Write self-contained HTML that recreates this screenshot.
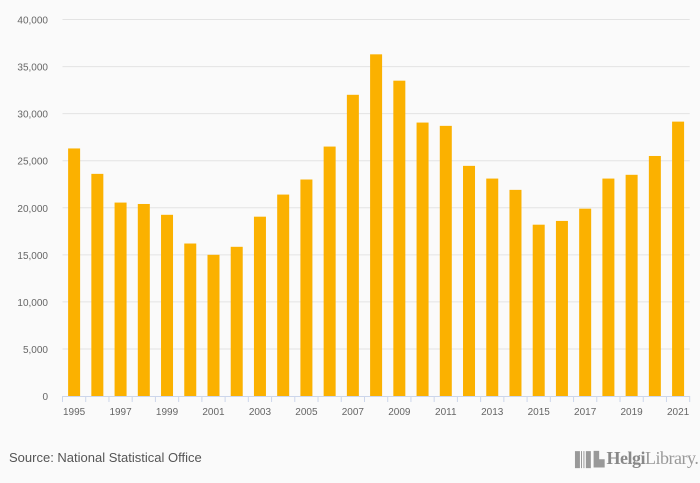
<!DOCTYPE html>
<html><head><meta charset="utf-8"><style>
body{margin:0;background:#fafafa;font-family:"Liberation Sans",sans-serif;}
#wrap{position:relative;width:700px;height:483px;background:#fafafa;overflow:hidden}
.src{position:absolute;left:9px;top:450px;font-size:13px;color:#555}
.logo{position:absolute;left:570px;top:448px;font-family:"Liberation Serif",serif;font-size:18px;color:#999;letter-spacing:-0.5px}
</style></head><body>
<div id="wrap">
<svg id="chart" width="700" height="483"></svg>
<div class="src">Source: National Statistical Office</div>
<div class="logo"><span style="font-size:14px;letter-spacing:-2px">▐║▌▙</span> <b style="font-weight:bold;color:#888">Helgi</b>Library.</div>
</div>
<script>
const years=[1995,1996,1997,1998,1999,2000,2001,2002,2003,2004,2005,2006,2007,2008,2009,2010,2011,2012,2013,2014,2015,2016,2017,2018,2019,2020,2021];
const values=[26300,23600,20550,20400,19250,16200,15000,15850,19050,21400,23000,26500,32000,36300,33500,29050,28700,24450,23100,21900,18200,18600,19900,23100,23500,25500,29150];
const yTicks=[0,5000,10000,15000,20000,25000,30000,35000,40000];
const ns="http://www.w3.org/2000/svg";
const svg=document.getElementById('chart');
const L=62.5,R=689.7,T=19.5,B=396;
const band=(R-L)/years.length;
const y=v=>B-(v/40000)*(B-T);
const x=i=>L+i*band;
function mk(t,a){const e=document.createElementNS(ns,t);for(const k in a)e.setAttribute(k,a[k]);svg.appendChild(e);return e;}
yTicks.forEach(t=>{
  if(t>0){const g=mk('line',{x1:L,x2:R,y1:y(t),y2:y(t),stroke:'#e3e3e3','stroke-width':1});
  
  }
  const tx=mk('text',{x:48,y:y(t)+4,'text-anchor':'end','font-size':10,fill:'#666'});
  
  
  tx.textContent=t.toLocaleString('en-US');
});
values.forEach((v,i)=>{
  const r=mk('rect',{x:x(i)+band/2-6,y:y(v),width:12,height:B-y(v),fill:'#fbb100'});
  
  
});
const ax=mk('line',{x1:L,x2:R,y1:B+0.5,y2:B+0.5,stroke:'#ccd6eb'});


for(let i=0;i<=years.length;i++){
  const tk=mk('line',{x1:x(i),x2:x(i),y1:B,y2:B+6,stroke:'#ccd6eb'});
  
  
}
years.forEach((yr,i)=>{
  if(i%2)return;
  const t=mk('text',{x:x(i)+band/2,y:415,'text-anchor':'middle','font-size':10,fill:'#666'});
  
  
  t.textContent=yr;
});
</script>
</body></html>
